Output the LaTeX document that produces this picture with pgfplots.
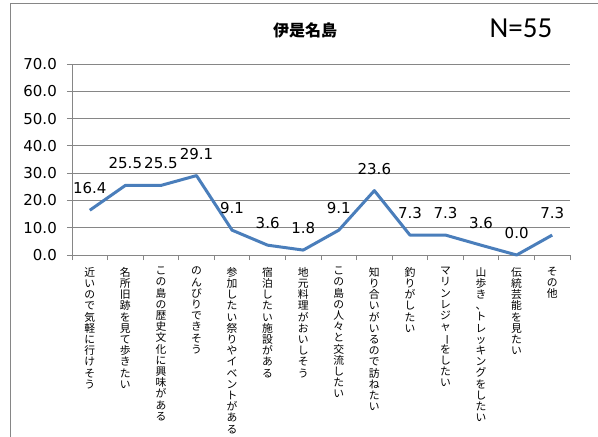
\documentclass[border=0pt]{standalone}
\usepackage{graphicx}
\usepackage{pgfplots}
\pgfplotsset{compat=1.18}
\usepackage{fontspec}
\setmainfont{DejaVu Sans}
\newfontfamily\jp{Noto Sans CJK JP}
\newfontfamily\carlito{Carlito}
\definecolor{lineblue}{RGB}{74,126,187}
\definecolor{axgray}{RGB}{134,134,134}
\makeatletter
\def\chonpu{ー}
\newcommand\vtext[1]{\vbox{\baselineskip=11.2pt\lineskiplimit=-20pt\lineskip=0pt\@tfor\vt@c:=#1\do{\hbox to 11pt{\hss\ifx\vt@c\chonpu\rotatebox[origin=c]{-90}{ー}\else\vt@c\fi\hss}}}}
\makeatother
\begin{document}
\begin{tikzpicture}[x=1pt,y=1pt]
\useasboundingbox (0,0) rectangle (598,437);
\draw[axgray, line width=0.8pt] (10,-10) -- (10,434) -- (610,434);
\node[font=\jp\bfseries\fontsize{16}{16}\selectfont] at (305,407) {伊是名島};
\node[font=\carlito\fontsize{29}{29}\selectfont] at (521,409) {N=55};
\begin{axis}[
  at={(72pt,182pt)}, anchor=south west,
  scale only axis, width=498pt, height=191pt,
  xmin=-0.5, xmax=13.5, ymin=0, ymax=70,
  axis x line*=bottom, axis y line*=left,
  axis line style={axgray, line width=0.8pt, -},
  ytick={0,10,...,70},
  ymajorgrids, grid style={axgray, line width=0.8pt},
  tick align=outside, major tick length=5pt,
  tick style={axgray, line width=0.8pt},
  xtick={-0.5,0.5,...,13.5}, xticklabels={},
  yticklabel style={font=\fontsize{15}{15}\selectfont, inner sep=0pt, anchor=east, xshift=-10pt},
  /pgf/number format/.cd, fixed, fixed zerofill, precision=1, assume math mode=true, /pgfplots/.cd,
  extra x ticks={0,1,...,13},
  extra x tick style={major tick length=0pt, grid=none,
    xticklabel style={anchor=north, inner sep=0pt, yshift=-12pt, font=\jp\fontsize{10.8}{11}\selectfont}},
  extra x tick labels={
    {\vtext{近いので気軽に行けそう}},
    {\vtext{名所旧跡を見て歩きたい}},
    {\vtext{この島の歴史文化に興味がある}},
    {\vtext{のんびりできそう}},
    {\vtext{参加したい祭りやイベントがある}},
    {\vtext{宿泊したい施設がある}},
    {\vtext{地元料理がおいしそう}},
    {\vtext{この島の人々と交流したい}},
    {\vtext{知り合いがいるので訪ねたい}},
    {\vtext{釣りがしたい}},
    {\vtext{マリンレジャーをしたい}},
    {\vtext{山歩き、トレッキングをしたい}},
    {\vtext{伝統芸能を見たい}},
    {\vtext{その他}}},
  clip=false,
]
\addplot[color=lineblue, line width=3pt, line join=round, mark=none,
  point meta=y,
  nodes near coords={\pgfmathprintnumber[fixed,fixed zerofill,precision=1,assume math mode=true]{\pgfplotspointmeta}},
  every node near coord/.append style={anchor=center, yshift=22pt, font=\fontsize{15}{15}\selectfont, text=black}]
coordinates {(0,16.4)(1,25.5)(2,25.5)(3,29.1)(4,9.1)(5,3.6)(6,1.8)(7,9.1)(8,23.6)(9,7.3)(10,7.3)(11,3.6)(12,0.0)(13,7.3)};
\end{axis}
\end{tikzpicture}
\end{document}
